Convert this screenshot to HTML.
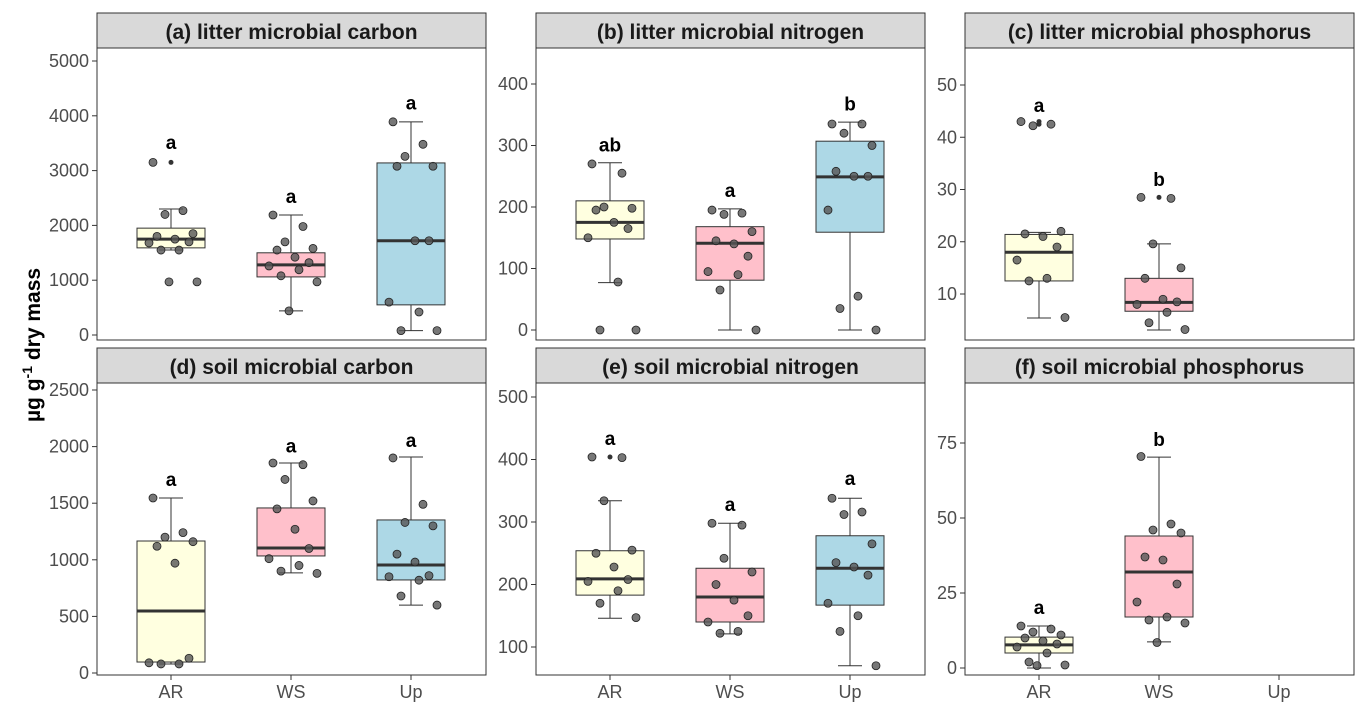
<!DOCTYPE html>
<html><head><meta charset="utf-8"><style>
body{margin:0;background:#fff;}
svg{display:block;font-family:"Liberation Sans",sans-serif;}
</style></head><body>
<svg id="chart" width="1367" height="717"></svg>
<script>
const categories=["AR","WS","Up"];
const titles=["(a) litter microbial carbon","(b) litter microbial nitrogen","(c) litter microbial phosphorus","(d) soil microbial carbon","(e) soil microbial nitrogen","(f) soil microbial phosphorus"];
const ticksA=[0,1000,2000,3000,4000,5000];
const ticksB=[0,100,200,300,400];
const ticksC=[10,20,30,40,50];
const ticksD=[0,500,1000,1500,2000,2500];
const ticksE=[100,200,300,400,500];
const ticksF=[0,25,50,75];
const boxA=[[1550,1590,1750,1950,2300],[440,1060,1280,1500,2190],[80,550,1720,3140,3890]];
const boxB=[[77,148,175,210,272],[0,81,141,168,197],[0,159,249,307,338]];
const boxC=[[5.4,12.5,18,21.4,21.8],[3.1,6.7,8.4,13,19.6]];
const boxD=[[80,97,548,1166,1546],[884,1034,1104,1458,1855],[600,822,954,1352,1908]];
const boxE=[[146,183,209,254,334],[121,140,180,226,298],[70,167,226,278,338]];
const boxF=[[0,5,7.7,10.3,14],[8.7,17,32,44,70.3]];
const ptsA=[[3150,2270,2200,1850,1800,1750,1700,1680,1550,1550,970,970],[2190,1980,1700,1580,1550,1420,1320,1260,1190,1080,970,440],[3890,3480,3260,3080,3080,1720,1720,600,420,80,80]];
const ptsB=[[270,255,200,198,195,175,165,150,78,0,0],[195,190,188,160,145,140,120,95,90,65,0],[335,335,320,300,258,250,250,195,55,35,0]];
const ptsC=[[43,42.5,42.2,22,21.5,21,19,16.5,13,12.5,5.5],[28.5,28.3,19.6,15,13,9,8.5,8,6.5,4.5,3.2]];
const ptsD=[[1546,1240,1200,1160,1120,970,130,90,80,80],[1855,1840,1710,1520,1450,1270,1100,1010,950,900,880],[1900,1490,1330,1300,1050,980,860,850,820,680,600]];
const ptsE=[[404,403,334,255,250,228,208,205,190,170,147],[298,295,242,220,200,175,150,140,125,122],[338,316,312,265,235,228,215,170,150,125,70]];
const ptsF=[[14,13,12,11,10,9,8,7,5,2,1,0.8],[70.5,48,46,45,37,36,28,22,17,16,15,8.5]];
const outA=[[3150],[],[]];
const outB=[[],[],[]];
const outC=[[43,42.5],[28.5]];
const outD=[[],[],[]];
const outE=[[404],[],[]];
const outF=[[],[]];
const lettersA=["a","a","a"],lettersB=["ab","a","b"],lettersC=["a","b"],lettersD=["a","a","a"],lettersE=["a","a","a"],lettersF=["a","b"];
const letterYA=[3500,2520,4220],letterYB=[300,226,367],letterYC=[46,31.8],letterYD=[1705,2000,2050],letterYE=[433,327,369],letterYF=[20,76];
const fills=["#ffffe0","#ffc0cb","#add8e6"];
const jit=[-18,12,-6,22,-14,4,18,-22,8,-10,26,-2];

const panels=[
 {x:97,top:13,box:boxA,pts:ptsA,out:outA,let:lettersA,ly:letterYA,ticks:ticksA,v0:0,y0:335,v1:5000,y1:61,axis:false},
 {x:536,top:13,box:boxB,pts:ptsB,out:outB,let:lettersB,ly:letterYB,ticks:ticksB,v0:0,y0:330,v1:400,y1:84,axis:false},
 {x:965,top:13,box:boxC,pts:ptsC,out:outC,let:lettersC,ly:letterYC,ticks:ticksC,v0:10,y0:294,v1:50,y1:85,axis:false},
 {x:97,top:348,box:boxD,pts:ptsD,out:outD,let:lettersD,ly:letterYD,ticks:ticksD,v0:0,y0:673,v1:2500,y1:390,axis:true},
 {x:536,top:348,box:boxE,pts:ptsE,out:outE,let:lettersE,ly:letterYE,ticks:ticksE,v0:100,y0:647,v1:500,y1:397,axis:true},
 {x:965,top:348,box:boxF,pts:ptsF,out:outF,let:lettersF,ly:letterYF,ticks:ticksF,v0:0,y0:668,v1:75,y1:443,axis:true}
];
const svg=document.getElementById('chart');
const NS="http://www.w3.org/2000/svg";
function mk(tag,attrs,parent,text){const e=document.createElementNS(NS,tag);for(const k in attrs)e.setAttribute(k,attrs[k]);if(text!==undefined)e.textContent=text;(parent||svg).appendChild(e);return e;}
const W=389,STRIP=35,PH=292;
panels.forEach((p,pi)=>{
 const g=mk('g',{});
 
 
 const sy=v=>p.y0+(v-p.v0)*(p.y1-p.y0)/(p.v1-p.v0);
 const cx=i=>p.x+74+i*120;
 const plotTop=p.top+STRIP, plotBot=plotTop+PH;
 const st=mk('rect',{x:p.x,y:p.top,width:W,height:STRIP,fill:'#d9d9d9',stroke:'#333','stroke-width':1},g);
 
 
 const tt=mk('text',{x:p.x+W/2,y:p.top+26,'text-anchor':'middle','font-size':21,'font-weight':'bold',fill:'#1a1a1a'},g,titles[pi]);
 
 
 mk('rect',{x:p.x,y:plotTop,width:W,height:PH,fill:'#fff',stroke:'#333','stroke-width':1},g);
 p.ticks.forEach(t=>{
  const y=sy(t);
  mk('line',{x1:p.x-5,x2:p.x,y1:y,y2:y,stroke:'#333'},g);
  const tl=mk('text',{x:p.x-8,y:y+6,'text-anchor':'end','font-size':18,fill:'#4d4d4d'},g,t);
  
  
 });
 if(p.axis){categories.forEach((c,i)=>{
  mk('line',{x1:cx(i),x2:cx(i),y1:plotBot,y2:plotBot+5,stroke:'#333'},g);
  const xl=mk('text',{x:cx(i),y:plotBot+23,'text-anchor':'middle','font-size':18,fill:'#4d4d4d'},g,c);
  
  
 });}
 p.box.forEach((b,i)=>{
  const x=cx(i);
  mk('line',{x1:x,x2:x,y1:sy(b[0]),y2:sy(b[1]),stroke:'#333'},g);
  mk('line',{x1:x,x2:x,y1:sy(b[3]),y2:sy(b[4]),stroke:'#333'},g);
  mk('line',{x1:x-12,x2:x+12,y1:sy(b[0]),y2:sy(b[0]),stroke:'#333'},g);
  mk('line',{x1:x-12,x2:x+12,y1:sy(b[4]),y2:sy(b[4]),stroke:'#333'},g);
  const r=mk('rect',{x:x-34,y:sy(b[3]),width:68,height:sy(b[1])-sy(b[3]),fill:fills[i],stroke:'#333'},g);
  
  
  mk('line',{x1:x-34,x2:x+34,y1:sy(b[2]),y2:sy(b[2]),stroke:'#333','stroke-width':3},g);
  p.out[i].forEach(o=>{mk('circle',{cx:x,cy:sy(o),r:2.5,fill:'#333'},g);});
  p.pts[i].forEach((v,k)=>{
   const c=mk('circle',{cx:x+jit[k%jit.length],cy:sy(v),r:4,fill:'#555','fill-opacity':0.8,stroke:'#222','stroke-width':0.8},g);
   
   
  });
  const lt=mk('text',{x:x,y:sy(p.ly[i])+6,'text-anchor':'middle','font-size':19,'font-weight':'bold',fill:'#000'},g,p.let[i]);
  
  
 });
});
const yt=mk('text',{x:0,y:0,transform:'translate(40,345) rotate(-90)','text-anchor':'middle','font-size':21,'font-weight':'bold',fill:'#000'});


yt.innerHTML='µg g<tspan dy="-8" font-size="14">-1</tspan><tspan dy="8"> dry mass</tspan>';
</script>
</body></html>
